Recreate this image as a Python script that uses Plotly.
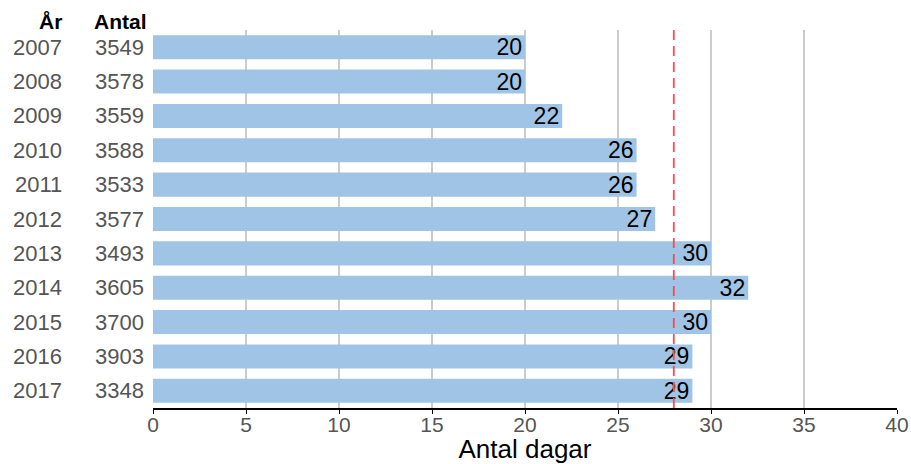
import plotly.graph_objects as go

years = ["2007", "2008", "2009", "2010", "2011", "2012", "2013", "2014", "2015", "2016", "2017"]
counts = ["3549", "3578", "3559", "3588", "3533", "3577", "3493", "3605", "3700", "3903", "3348"]
days = [20, 20, 22, 26, 26, 27, 30, 32, 30, 29, 29]
reference_value = 28
x_ticks = [0, 5, 10, 15, 20, 25, 30, 35, 40]

FONT = "Liberation Sans, Arial, sans-serif"
W, H = 911, 464
L, R, T, B = 153, 14, 30, 56

fig = go.Figure()
fig.add_trace(go.Bar(
    x=days, y=years, orientation="h",
    marker=dict(color="#a0c4e5", line=dict(width=0)),
    text=[str(d) for d in days],
    textposition="inside", insidetextanchor="end", textangle=0,
    textfont=dict(color="black", size=23, family=FONT),
    constraintext="none",
    hoverinfo="skip",
))

fig.add_shape(type="line", xref="x", yref="paper",
              x0=reference_value, x1=reference_value, y0=0, y1=1,
              line=dict(color="#ff4a4a", width=1.8, dash="10px,6px"), layer="above")

plot_w = W - L - R
annotations = []
for i, (yr, c) in enumerate(zip(years, counts)):
    annotations.append(dict(x=(64 - L) / plot_w, y=i, xref="paper", yref="y",
                            text=yr, showarrow=False, xanchor="right",
                            font=dict(size=22, color="#555555", family=FONT)))
    annotations.append(dict(x=(146 - L) / plot_w, y=i, xref="paper", yref="y",
                            text=c, showarrow=False, xanchor="right",
                            font=dict(size=22, color="#555555", family=FONT)))
annotations.append(dict(x=(64 - L) / plot_w, y=1, yref="paper", xref="paper",
                        yanchor="bottom", yshift=-5,
                        text="<b>År</b>", showarrow=False, xanchor="right",
                        font=dict(size=21, color="black", family=FONT)))
annotations.append(dict(x=(149 - L) / plot_w, y=1, yref="paper", xref="paper",
                        yanchor="bottom", yshift=-5,
                        text="<b>Antal</b>", showarrow=False, xanchor="right",
                        font=dict(size=21, color="black", family=FONT)))

fig.update_layout(
    width=W, height=H,
    margin=dict(l=L, r=R, t=T, b=B),
    plot_bgcolor="white", paper_bgcolor="white",
    bargap=0.3,
    showlegend=False,
    font=dict(family=FONT),
    annotations=annotations,
    xaxis=dict(range=[0, 40], tickvals=x_ticks, ticktext=[str(v) for v in x_ticks],
               showgrid=True, gridcolor="#cccccc", gridwidth=1.5,
               showline=True, linecolor="black", linewidth=2,
               ticks="outside", ticklen=4, tickcolor="black",
               ticklabelstandoff=-7,
               tickfont=dict(size=21, color="#555555", family=FONT),
               title=dict(text="Antal dagar", font=dict(size=26, color="black", family=FONT), standoff=10),
               zeroline=False, automargin=False),
    yaxis=dict(type="category", categoryorder="array", categoryarray=years,
               range=[len(years) - 0.5, -0.5], showticklabels=False, showgrid=False,
               zeroline=False, showline=False, automargin=False),
)

fig.write_html("out.html", config={"displayModeBar": False},
               post_script="document.body.style.margin='0';")
